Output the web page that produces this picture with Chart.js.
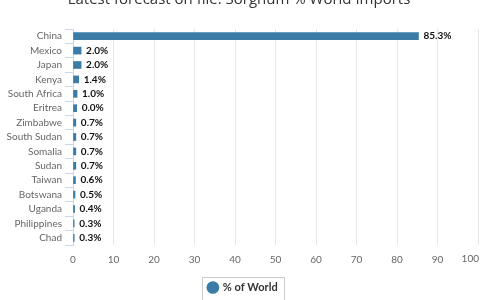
<!DOCTYPE html>
<html>
<head>
<meta charset="utf-8">
<script src="https://cdn.jsdelivr.net/npm/chart.js@4"></script>
<style>
  html, body { margin: 0; padding: 0; background: #fff; }
  #wrap { width: 480px; height: 300px; }
</style>
</head>
<body>
<div id="wrap"><canvas id="chart"></canvas></div>
<script>
// data
const countries = ['China', 'Mexico', 'Japan', 'Kenya', 'South Africa', 'Eritrea', 'Zimbabwe',
    'South Sudan', 'Somalia', 'Sudan', 'Taiwan', 'Botswana', 'Uganda', 'Philippines', 'Chad'];
const shareOfWorld = [85.3, 2.0, 2.0, 1.4, 1.0, 0.9, 0.7, 0.7, 0.7, 0.7, 0.6, 0.5, 0.4, 0.3, 0.3];
const valueLabels = ['85.3%', '2.0%', '2.0%', '1.4%', '1.0%', '0.0%', '0.7%', '0.7%', '0.7%',
    '0.7%', '0.6%', '0.5%', '0.4%', '0.3%', '0.3%'];
const xTicks = [0, 10, 20, 30, 40, 50, 60, 70, 80, 90, 100];

const barColor = '#3a7ca6';
const font = "Lato, 'Open Sans', sans-serif";

// value labels at the bar ends, plus the last x tick pulled inside the canvas
const barLabels = {
    id: 'barLabels',
    afterDatasetsDraw(chart) {
        const ctx = chart.ctx;
        const meta = chart.getDatasetMeta(0);
        ctx.save();
        ctx.font = 'bold 10px ' + font;
        ctx.fillStyle = '#111';
        ctx.textBaseline = 'middle';
        meta.data.forEach((bar, i) => {
            ctx.fillText(valueLabels[i], bar.x + 5, bar.y);
        });
        const x = chart.scales.x;
        const last = xTicks[xTicks.length - 1];
        ctx.font = '10px ' + font;
        ctx.fillStyle = '#666';
        ctx.textAlign = 'right';
        ctx.textBaseline = 'top';
        ctx.fillText(String(last), chart.width - 1, x.top + 9);
        ctx.restore();
    }
};

// nudge the legend a little and frame it
const legendFrame = {
    id: 'legendFrame',
    afterLayout(chart) {
        const lg = chart.legend;
        lg.top += 3;
        lg.bottom += 3;
        lg.left += 4;
        lg.right += 4;
    },
    afterDraw(chart) {
        const hb = chart.legend.legendHitBoxes[0];
        if (!hb) return;
        const ctx = chart.ctx;
        const cy = hb.top + hb.height / 2;
        const left = Math.round(hb.left - 6) + 0.5;
        const right = Math.round(hb.left + hb.width + 6) + 0.5;
        ctx.save();
        ctx.strokeStyle = '#ccc';
        ctx.lineWidth = 1;
        ctx.strokeRect(left, Math.round(cy - 11) + 0.5, right - left, 23);
        ctx.restore();
    }
};

new Chart(document.getElementById('chart'), {
    type: 'bar',
    data: {
        labels: countries,
        datasets: [{
            label: '% of World',
            data: shareOfWorld,
            backgroundColor: barColor,
            borderWidth: 0,
            barThickness: 7
        }]
    },
    options: {
        indexAxis: 'y',
        responsive: true,
        maintainAspectRatio: false,
        animation: false,
        layout: { padding: { left: 0, right: 2, top: 0, bottom: 0 } },
        plugins: {
            title: {
                display: true,
                text: 'Latest forecast on file: Sorghum % World Imports',
                color: '#333',
                font: { family: "'Open Sans', sans-serif", size: 15, weight: 'normal' },
                padding: { top: -9, bottom: 20 }
            },
            legend: {
                position: 'bottom',
                labels: {
                    usePointStyle: true,
                    pointStyle: 'circle',
                    boxWidth: 9,
                    boxHeight: 9,
                    color: '#333',
                    font: { family: font, size: 11, weight: 'bold' },
                    padding: 4
                }
            },
            tooltip: { enabled: false }
        },
        scales: {
            x: {
                min: 0,
                max: 100,
                afterBuildTicks: s => { s.ticks = xTicks.map(v => ({ value: v })); },
                afterFit: s => { s.paddingRight = 0; },
                grid: { color: '#e6e6e6', drawTicks: false },
                border: { display: false },
                ticks: {
                    color: '#666',
                    font: { family: font, size: 10 },
                    padding: 9,
                    callback: (v, i) => (i === xTicks.length - 1 ? '' : String(xTicks[i]))
                }
            },
            y: {
                afterFit: s => { s.width = 73; },
                grid: { offset: true, drawOnChartArea: false, color: '#ccd6eb', tickLength: 8 },
                border: { color: '#ccd6eb' },
                ticks: { color: '#666', font: { family: font, size: 10 }, padding: 3, autoSkip: false }
            }
        }
    },
    plugins: [barLabels, legendFrame]
});
</script>
</body>
</html>
